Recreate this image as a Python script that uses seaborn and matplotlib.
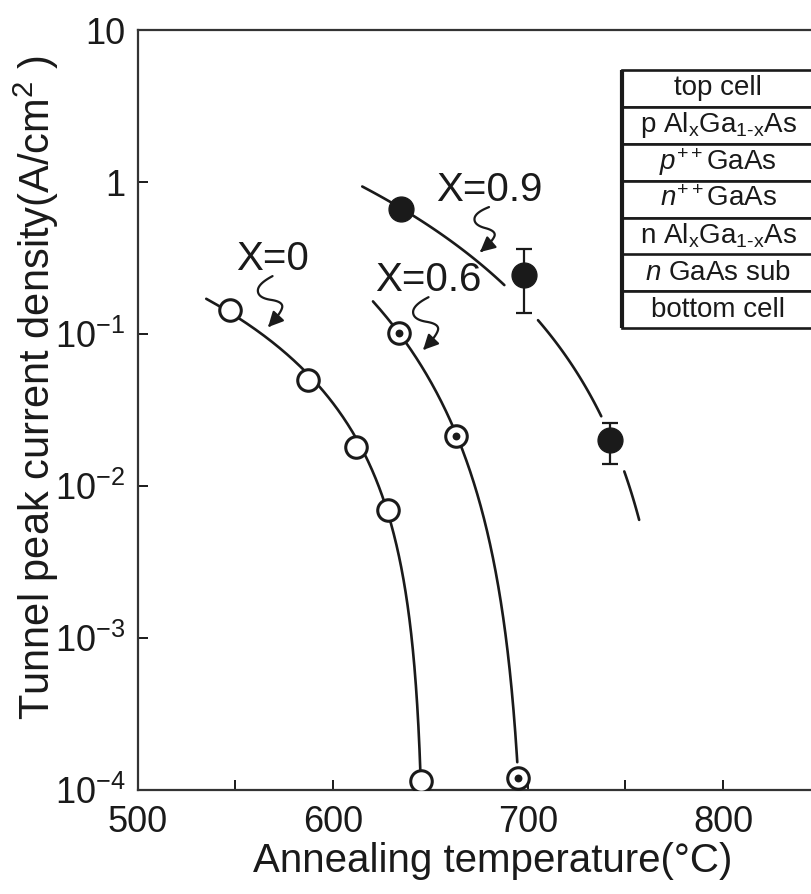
import numpy as np
import pandas as pd
import seaborn as sns
import matplotlib
matplotlib.use("Agg")
import matplotlib.pyplot as plt
from matplotlib import font_manager
from matplotlib.patches import FancyArrowPatch, Rectangle
from matplotlib.path import Path
from matplotlib.transforms import IdentityTransform
from matplotlib.ticker import NullLocator, FixedLocator, FixedFormatter

# ---- measured data -------------------------------------------------------
# X = 0 (open circles)
t_x0 = [547, 587, 612, 628, 645]
j_x0 = [0.144, 0.050, 0.018, 0.0070, 1.15e-4]
# X = 0.6 (circles with centre dot)
t_x06 = [634, 663, 695]
j_x06 = [0.102, 0.0213, 1.2e-4]
# X = 0.9 (filled circles), two of them with error bars
t_x09 = [635, 698, 742]
j_x09 = [0.66, 0.244, 0.020]
t_err = [698, 742]
j_err_lo = [0.137, 0.014]
j_err_hi = [0.36, 0.026]

# points along the drawn guide curves
guide_x0_t = [535, 547, 587, 612, 628, 645]
guide_x0_j = [0.19, 0.144, 0.050, 0.018, 0.0070, 1.15e-4]
guide_x06_t = [620.5, 634, 663, 695]
guide_x06_j = [0.167, 0.102, 0.0213, 1.2e-4]
guide_x09_t = [644.6, 685.6, 703.6, 738]
guide_x09_j = [0.56, 0.226, 0.129, 0.028]

# curve labels: text position and arrow tip
labels = ["X=0", "X=0.6", "X=0.9"]
label_t = [569, 649, 680]
label_j = [0.311, 0.226, 0.885]
tip_t = [566.7, 646.2, 675.4]
tip_j = [0.111, 0.0785, 0.346]

# layer stack table
stack_rows = ["top cell",
              r"p Al$_x$Ga$_{1\text{-}x}$As",
              r"$\mathit{p}^{++}$GaAs",
              r"$\mathit{n}^{++}$GaAs",
              r"n Al$_x$Ga$_{1\text{-}x}$As",
              r"$\mathit{n}$ GaAs sub",
              "bottom cell"]

yticks = [1e-4, 1e-3, 1e-2, 1e-1, 1, 10]
ytick_labels = [r"$10^{-4}$", r"$10^{-3}$", r"$10^{-2}$", r"$10^{-1}$", "1", "10"]
xticks = [500, 550, 600, 650, 700, 750, 800, 850]
xtick_labels = ["500", "", "600", "", "700", "", "800", ""]


def pick_font(names):
    for name in names:
        try:
            font_manager.findfont(font_manager.FontProperties(family=name),
                                  fallback_to_default=False)
            return name
        except Exception:
            continue
    return "DejaVu Sans"


sns.set_style("ticks")
narrow = pick_font(["Liberation Sans Narrow", "Liberation Sans"])
wide = pick_font(["Liberation Sans", "DejaVu Sans"])
plt.rcParams["font.family"] = [narrow, "DejaVu Sans"]
plt.rcParams["mathtext.fontset"] = "custom"
plt.rcParams["mathtext.rm"] = wide
plt.rcParams["mathtext.it"] = wide + ":italic"
plt.rcParams["mathtext.default"] = "regular"

INK = "#1a1a1a"

W, H = 812, 894
fig = plt.figure(figsize=(W / 100, H / 100), dpi=100)
AX_L, AX_R, AX_T, AX_B = 138, 820.5, 30, 790
ax = fig.add_axes([AX_L / W, (H - AX_B) / H, (AX_R - AX_L) / W, (AX_B - AX_T) / H])
ax.set_yscale("log")
ax.set_xlim(500, 850)
ax.set_ylim(1e-4, 10)


def fit_curve(t_pts, j_pts, t_c, t_start, t_end, n=400):
    """Least-squares fit of log J against log(t_c - T)."""
    u = np.log10(t_c - np.asarray(t_pts, float))
    y = np.log10(np.asarray(j_pts, float))
    b, a = np.polyfit(u, y, 1)
    u0 = np.log10(t_c - t_start)
    u1 = np.log10(t_c - t_end)
    u_floor = (-4 - a) / b
    u1 = max(u1, u_floor)
    uu = np.linspace(u0, u1, n)
    return t_c - 10 ** uu, 10 ** (a + b * uu)


curves = []
T0, J0 = fit_curve(guide_x0_t, guide_x0_j, 647, 535, 645.5)
curves.append(("X=0", T0, J0))
T6, J6 = fit_curve(guide_x06_t, guide_x06_j, 700, 620.5, 694.5)
curves.append(("X=0.6", T6, J6))
T9, J9 = fit_curve(guide_x09_t, guide_x09_j, 780, 615, 757)
curves.append(("X=0.9", T9, J9))

# split the curves into segments, leaving a gap where they cross an error bar
rows = []
for name, T, J in curves:
    seg = 0
    prev_gap = False
    for t, j in zip(T, J):
        gap = False
        if name == "X=0.9":
            for te, lo, hi in zip(t_err, j_err_lo, j_err_hi):
                if abs(t - te) < 10 and lo * 0.9 < j < hi * 1.1:
                    gap = True
        if gap:
            prev_gap = True
            continue
        if prev_gap:
            seg += 1
            prev_gap = False
        rows.append({"curve": name, "seg": f"{name}-{seg}", "T": t, "J": j})
curve_df = pd.DataFrame(rows)

for name, sub in curve_df.groupby("curve"):
    sns.lineplot(data=sub, x="T", y="J", units="seg", estimator=None, sort=False,
                 color=INK, lw=1.9, ax=ax, zorder=2, legend=False)

# error bars
j_err = np.array([j_x09[t_x09.index(t)] for t in t_err])
ax.errorbar(t_err, j_err, yerr=[j_err - np.array(j_err_lo), np.array(j_err_hi) - j_err],
            fmt="none", ecolor=INK, elinewidth=1.6, capsize=6, capthick=1.6, zorder=3)

# markers
sns.scatterplot(x=t_x0, y=j_x0, ax=ax, marker="o", s=240, color="white",
                edgecolor=INK, linewidth=2.2, zorder=4)
sns.scatterplot(x=t_x06, y=j_x06, ax=ax, marker="o", s=240, color="white",
                edgecolor=INK, linewidth=2.2, zorder=4)
sns.scatterplot(x=t_x06, y=j_x06, ax=ax, marker="o", s=32, color=INK,
                edgecolor=INK, linewidth=0, zorder=5)
sns.scatterplot(x=t_x09, y=j_x09, ax=ax, marker="o", s=320, color=INK,
                edgecolor=INK, linewidth=1, zorder=4)

# axes styling
ax.xaxis.set_major_locator(FixedLocator(xticks))
ax.xaxis.set_major_formatter(FixedFormatter(xtick_labels))
ax.yaxis.set_major_locator(FixedLocator(yticks))
ax.yaxis.set_major_formatter(FixedFormatter(ytick_labels))
ax.yaxis.set_minor_locator(NullLocator())
ax.xaxis.set_minor_locator(NullLocator())
ax.tick_params(axis="both", direction="in", length=7, width=1.4, color=INK,
               labelcolor=INK, labelsize=26, top=False, right=False)
ax.tick_params(axis="x", pad=11)
ax.tick_params(axis="y", pad=9)
for side in ["left", "bottom", "top", "right"]:
    ax.spines[side].set_visible(True)
    ax.spines[side].set_linewidth(1.6)
    ax.spines[side].set_color("#333333")

ax.set_xlabel("Annealing temperature(°C)", fontsize=29, family=[wide, "DejaVu Sans"],
              color=INK)
ax.xaxis.set_label_coords(0.52, -0.068)
ax.set_ylabel(r"Tunnel peak current density(A/cm$^2$ )", fontsize=30, color=INK)
ax.yaxis.set_label_coords(-0.113, 0.53)

# curve labels with wavy arrows
fig.canvas.draw()


def wavy_path(start, end):
    s = np.asarray(start, float)
    e = np.asarray(end, float)
    d = e - s
    L = np.hypot(*d)
    d = d / L
    nrm = np.array([-d[1], d[0]])
    shape = [(0, 0), (-0.28, 0.18), (-0.24, 0.45), (0.26, 0.48), (0.22, 0.72), (0, 1)]
    V = [s + a * L * d + lat * L * nrm for lat, a in shape]
    on = [V[0]] + [(V[i] + V[i + 1]) / 2 for i in range(1, len(V) - 2)] + [V[-1]]
    pts = []
    for k in range(len(on) - 1):
        p0, c, p1 = on[k], V[k + 1], on[k + 1]
        for t in np.linspace(0, 1, 20, endpoint=(k == len(on) - 2)):
            pts.append((1 - t) ** 2 * p0 + 2 * (1 - t) * t * c + t ** 2 * p1)
    return Path(np.array(pts))


for txt, lt, lj, tt, tj in zip(labels, label_t, label_j, tip_t, tip_j):
    ax.text(lt, lj, txt, fontsize=29, ha="center", va="center", color=INK, zorder=6)
    sx, sy = ax.transData.transform((lt, lj))
    ex, ey = ax.transData.transform((tt, tj))
    arrow = FancyArrowPatch(path=wavy_path((sx, sy - 17), (ex, ey)),
                            arrowstyle="-|>,head_length=0.9,head_width=0.45",
                            mutation_scale=10, lw=1.6, color=INK,
                            transform=IdentityTransform(), clip_on=False, zorder=6)
    fig.add_artist(arrow)

# layer stack table (pixel layout converted to axes fraction)
def px_ax(xp, yp):
    return (xp - AX_L) / (AX_R - AX_L), (AX_B - yp) / (AX_B - AX_T)


row_h = 36.9
top_y = 70
for i, label in enumerate(stack_rows):
    y_top = top_y + i * row_h
    x0, y0 = px_ax(622, y_top + row_h)
    x1, _ = px_ax(840, y_top)
    h = row_h / (AX_B - AX_T)
    ax.add_patch(Rectangle((x0, y0), x1 - x0, h, transform=ax.transAxes,
                           facecolor="white", edgecolor=INK, lw=1.9,
                           clip_on=False, zorder=7))
    cx, cy = px_ax(718, y_top + row_h / 2)
    ax.text(cx, cy, label, transform=ax.transAxes, fontsize=20,
            family=[wide, "DejaVu Sans"], ha="center", va="center",
            color=INK, zorder=8)
# heavier left edge of the table
lx, ly0 = px_ax(622, top_y + 7 * row_h)
_, ly1 = px_ax(622, top_y)
ax.plot([lx, lx], [ly0, ly1], transform=ax.transAxes, color=INK, lw=3,
        clip_on=False, zorder=9, solid_capstyle="butt")

fig.savefig("out.png", dpi=100)
